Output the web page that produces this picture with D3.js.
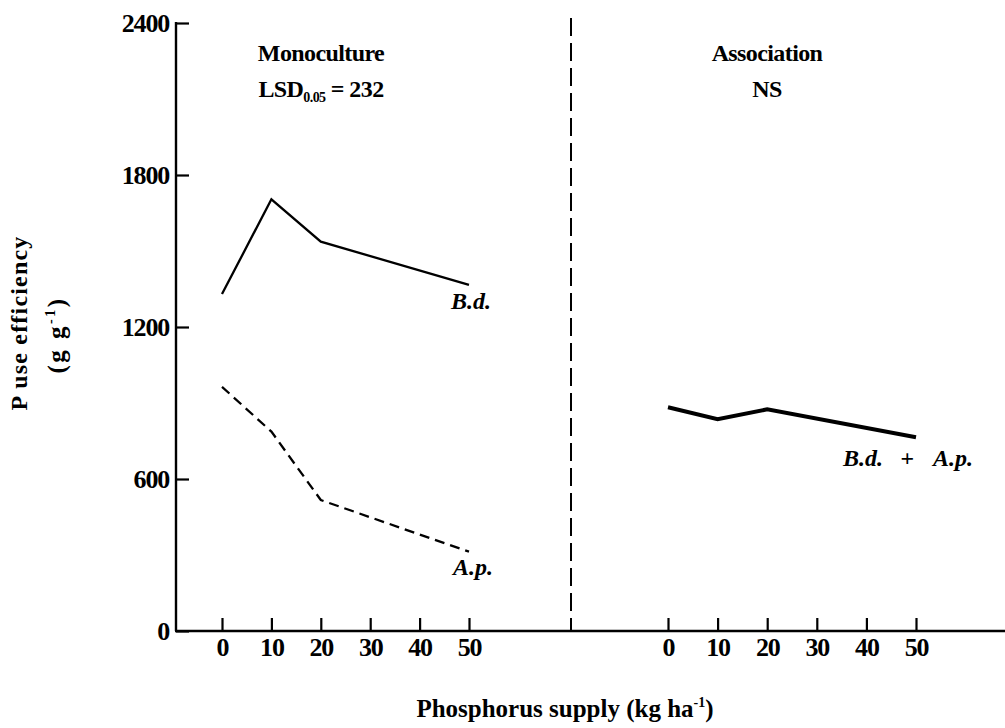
<!DOCTYPE html>
<html>
<head>
<meta charset="utf-8">
<script src="https://cdn.jsdelivr.net/npm/d3@7"></script>
<style>
  html, body { margin: 0; padding: 0; background: #fff; }
  svg { display: block; }
  text { font-family: "Liberation Serif", "Times New Roman", serif; font-weight: bold; fill: #000; }
</style>
</head>
<body>
<svg id="chart" width="1005" height="728"></svg>
<script>
// ---- data ----
const supply = [0, 10, 20, 50];
const monoBd = [1330, 1704, 1537, 1366];
const monoAp = [964, 787, 517, 313];
const assocBdAp = [883, 836, 875, 765];
const xTicks = [0, 10, 20, 30, 40, 50];
const yTicks = [0, 600, 1200, 1800, 2400];

const svg = d3.select("#chart");

const y = d3.scaleLinear().domain([0, 2400]).range([631, 23]);
const xL = d3.scaleLinear().domain([0, 50]).range([222, 469]);
const xR = d3.scaleLinear().domain([0, 50]).range([668, 916]);

const axisX0 = 176, axisY0 = 631, dividerX = 571;
const tickFont = 26;

// y axis
const gy = svg.append("g").attr("transform", `translate(${axisX0},0)`)
  .call(d3.axisLeft(y).tickValues(yTicks).tickFormat(d3.format("d"))
    .tickSize(-13).tickPadding(7).tickSizeOuter(0));
gy.select(".domain").remove();
gy.selectAll(".tick line").attr("stroke", "#000").attr("stroke-width", 2.2);
gy.selectAll(".tick text").attr("font-size", tickFont).style("letter-spacing", "-1.2px");
svg.append("line").attr("x1", axisX0).attr("x2", axisX0).attr("y1", y(2400) - 1).attr("y2", axisY0)
  .attr("stroke", "#000").attr("stroke-width", 2.4);

// x axis line
svg.append("line").attr("x1", axisX0 - 1).attr("x2", 1005).attr("y1", axisY0).attr("y2", axisY0)
  .attr("stroke", "#000").attr("stroke-width", 2.4);

function xAxis(scale) {
  const g = svg.append("g").attr("transform", `translate(0,${axisY0})`)
    .call(d3.axisBottom(scale).tickValues(xTicks).tickFormat(d3.format("d"))
      .tickSize(-13).tickPadding(7).tickSizeOuter(0));
  g.select(".domain").remove();
  g.selectAll(".tick line").attr("stroke", "#000").attr("stroke-width", 2.2);
  g.selectAll(".tick text").attr("font-size", tickFont).style("letter-spacing", "-1.2px");
}
xAxis(xL);
xAxis(xR);

// divider dashed line
svg.append("line").attr("x1", dividerX).attr("x2", dividerX).attr("y1", 18).attr("y2", axisY0)
  .attr("stroke", "#000").attr("stroke-width", 2).attr("stroke-dasharray", "18,7");

// lines
const lineL = d3.line().x((d, i) => xL(supply[i])).y(d => y(d));
const lineR = d3.line().x((d, i) => xR(supply[i])).y(d => y(d));

svg.append("path").datum(monoBd).attr("d", lineL).attr("fill", "none")
  .attr("stroke", "#000").attr("stroke-width", 2.3);
svg.append("path").datum(monoAp).attr("d", lineL).attr("fill", "none")
  .attr("stroke", "#000").attr("stroke-width", 2.3).attr("stroke-dasharray", "10,6");
svg.append("path").datum(assocBdAp).attr("d", lineR).attr("fill", "none")
  .attr("stroke", "#000").attr("stroke-width", 4);

// series labels
function label(x, yy, txt, anchor) {
  svg.append("text").attr("x", x).attr("y", yy).attr("font-size", 24)
    .attr("font-style", "italic").attr("text-anchor", anchor || "start").text(txt);
}
label(491, 309, "B.d.", "end");
label(493, 575, "A.p.", "end");
label(843, 466, "B.d.", "start");
label(907, 466, "+", "middle");
label(973, 466, "A.p.", "end");

// panel titles
function title(x, yy, txt) {
  return svg.append("text").attr("x", x).attr("y", yy).attr("font-size", 24)
    .attr("text-anchor", "middle").style("letter-spacing", "-0.6px").text(txt);
}
title(321, 61, "Monoculture");
const lsd = svg.append("text").attr("x", 321).attr("y", 97).attr("font-size", 24)
  .attr("text-anchor", "middle").style("letter-spacing", "-0.6px");
lsd.append("tspan").text("LSD");
lsd.append("tspan").attr("font-size", 14).attr("dy", 5).text("0.05");
lsd.append("tspan").attr("dy", -5).text(" = 232");
title(767, 61, "Association");
title(767, 97, "NS");

// y axis title
const yl = svg.append("g").attr("transform", "translate(27,323) rotate(-90)");
yl.append("text").attr("font-size", 24).attr("text-anchor", "middle")
  .style("letter-spacing", "1.2px").text("P use efficiency");
const yl2 = yl.append("text").attr("y", 38).attr("x", -12).attr("font-size", 25)
  .attr("text-anchor", "middle").style("letter-spacing", "2.5px");
yl2.append("tspan").text("(g g");
yl2.append("tspan").attr("font-size", 14).attr("dy", -10).text("-1");
yl2.append("tspan").attr("dy", 10).text(")");

// x axis title
const xl = svg.append("text").attr("x", 565).attr("y", 717).attr("font-size", 25).attr("text-anchor", "middle");
xl.append("tspan").text("Phosphorus supply (kg ha");
xl.append("tspan").attr("font-size", 14).attr("dy", -10).text("-1");
xl.append("tspan").attr("dy", 10).text(")");
</script>
</body>
</html>
